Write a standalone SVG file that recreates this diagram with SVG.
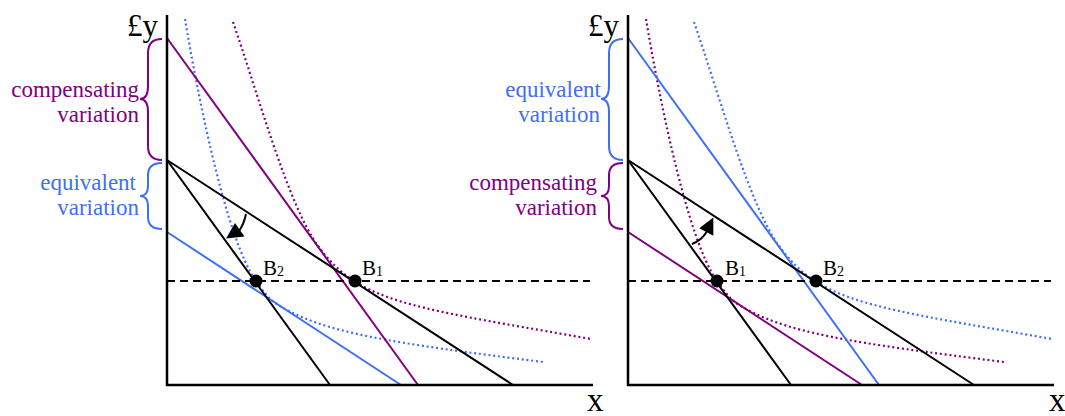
<svg xmlns="http://www.w3.org/2000/svg" width="1065" height="416" viewBox="0 0 1065 416" font-family="'Liberation Serif', 'Times New Roman', serif">
<style>
 .axis{stroke:#000;stroke-width:2.5;fill:none}
 .bl{stroke:#000;stroke-width:2;fill:none}
 .pu{stroke:#800080;stroke-width:2;fill:none}
 .bu{stroke:#3f6ff5;stroke-width:2;fill:none}
 .brace{stroke-width:2;fill:none}
 .dash{stroke:#000;stroke-width:2;stroke-dasharray:8 5;fill:none}
 .dot{stroke-width:2.2;stroke-dasharray:2 2.8;fill:none}
 .cpu{stroke:#800080}
 .cbu{stroke:#3f6ff5}
 .pt{fill:#000}
 .head{fill:#000;stroke:none}
 text{font-family:'Liberation Serif','Times New Roman',serif;fill:#000}
 .lab{font-size:23px;text-anchor:end}
 .tpu{fill:#800080}
 .tbu{fill:#3f6ff5}
 .ax{font-size:31px}
 .xl{font-size:33px}
 .b{font-size:21px}
 .sub{font-size:14px}
</style>
<defs>
 <path id="curveA" d="M185,19 C197,91 226,239.6 256,281 C263,290.7 268,298.2 276,303.5 C321,333.1 393,343 543,362"/>
 <path id="curveB" d="M233,22 C258,94 288,204.5 318,246 C329,261.2 341.7,273 354,281 C394,307 461,316 591,339"/>
</defs>

<g id="left-panel">
 <g id="left-indifference-curves">
  <use href="#curveA" class="dot cbu"/>
  <use href="#curveB" class="dot cpu"/>
 </g>
 <g id="left-budget-lines">
  <path class="pu" d="M167,38 L418,385"/>
  <path class="bu" d="M167,232 L401,385"/>
  <path class="bl" d="M167,160 L513,385"/>
  <path class="bl" d="M167,160 L330,385"/>
  <path class="dash" d="M167,281 H590"/>
 </g>
 <g id="left-axes">
  <path class="axis" d="M167,15 V385 H593"/>
  <text class="ax" x="158" y="36" text-anchor="end">£y</text>
  <text class="xl" x="587" y="411">x</text>
 </g>
 <g id="left-braces">
  <path class="brace cpu" d="M162,39 Q148,39 148,53 L148,86 Q148,99 140,99 Q148,99 148,112 L148,146 Q148,160 162,160"/>
  <path class="brace cbu" d="M162,163 Q148,163 148,175 L148,186 Q148,196 140,196 Q148,196 148,206 L148,217 Q148,229 162,229"/>
  <text class="lab tpu" x="139" y="97">compensating</text>
  <text class="lab tpu" x="139" y="122">variation</text>
  <text class="lab tbu" x="136" y="190">equivalent</text>
  <text class="lab tbu" x="139" y="215">variation</text>
 </g>
 <g id="left-points">
  <circle class="pt" cx="256" cy="281" r="6.5"/>
  <circle class="pt" cx="355" cy="281" r="6.5"/>
  <text class="b" x="263" y="275">B<tspan class="sub" dy="1">2</tspan></text>
  <text class="b" x="362" y="275">B<tspan class="sub" dy="1">1</tspan></text>
 </g>
 <g id="left-arrow">
  <path class="bl" d="M246,214 Q244,224 239,231"/>
  <polygon class="head" points="226,238.5 235,223 244.5,236.5"/>
 </g>
</g>

<g id="right-panel" transform="translate(461,0)">
 <g id="right-indifference-curves">
  <use href="#curveA" class="dot cpu"/>
  <use href="#curveB" class="dot cbu"/>
 </g>
 <g id="right-budget-lines">
  <path class="bu" d="M167,38 L418,385"/>
  <path class="pu" d="M167,232 L401,385"/>
  <path class="bl" d="M167,160 L513,385"/>
  <path class="bl" d="M167,160 L330,385"/>
  <path class="dash" d="M167,281 H590"/>
 </g>
 <g id="right-axes">
  <path class="axis" d="M167,15 V385 H593"/>
  <text class="ax" x="158" y="36" text-anchor="end">£y</text>
  <text class="xl" x="588" y="411">x</text>
 </g>
 <g id="right-braces">
  <path class="brace cbu" d="M162,39 Q148,39 148,53 L148,86 Q148,99 140,99 Q148,99 148,112 L148,146 Q148,160 162,160"/>
  <path class="brace cpu" d="M162,163 Q148,163 148,175 L148,186 Q148,196 140,196 Q148,196 148,206 L148,217 Q148,229 162,229"/>
  <text class="lab tbu" x="140" y="97">equivalent</text>
  <text class="lab tbu" x="139" y="122">variation</text>
  <text class="lab tpu" x="136" y="190">compensating</text>
  <text class="lab tpu" x="136" y="215">variation</text>
 </g>
 <g id="right-points">
  <circle class="pt" cx="256" cy="281" r="6.5"/>
  <circle class="pt" cx="355" cy="281" r="6.5"/>
  <text class="b" x="264" y="275">B<tspan class="sub" dy="1">1</tspan></text>
  <text class="b" x="362" y="275">B<tspan class="sub" dy="1">2</tspan></text>
 </g>
 <g id="right-arrow">
  <path class="bl" d="M231,244 Q241,240 245.5,232"/>
  <polygon class="head" points="252.3,217.5 238.3,228.3 252.3,235.7"/>
 </g>
</g>
</svg>
